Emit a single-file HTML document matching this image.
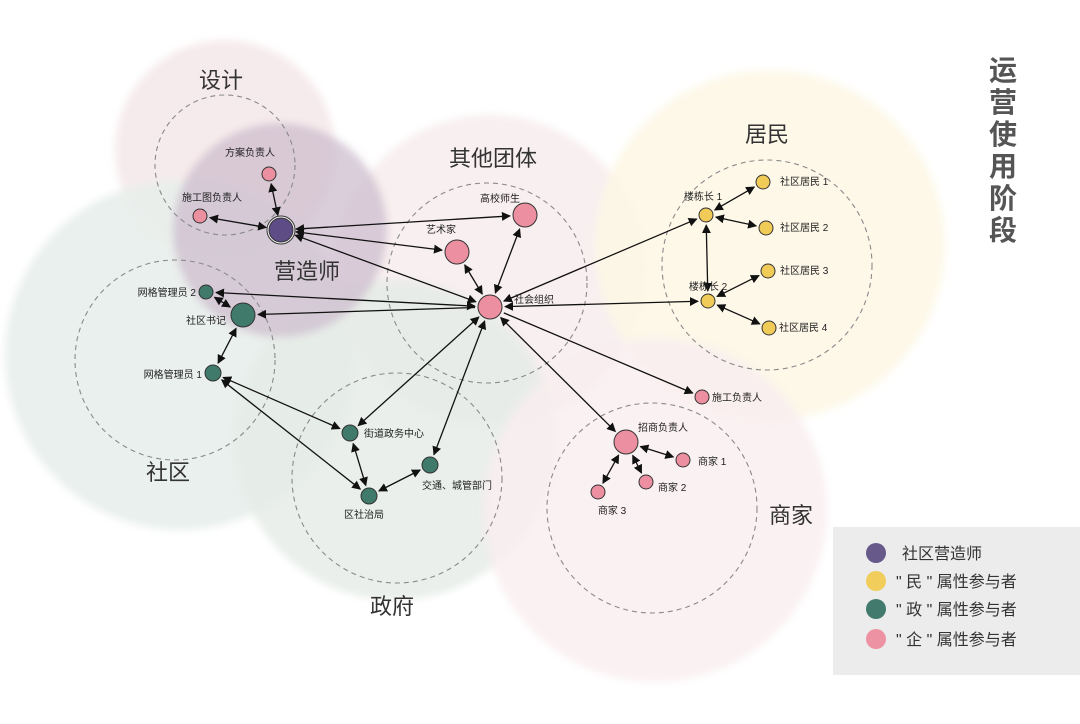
<!DOCTYPE html>
<html><head><meta charset="utf-8">
<style>
html,body{margin:0;padding:0;background:#fff;}
svg{display:block;font-family:"Liberation Sans","Noto Sans CJK SC",sans-serif;}
</style></head><body>
<svg id="s" width="1080" height="724" viewBox="0 0 1080 724" xmlns="http://www.w3.org/2000/svg">
<defs>
<marker id="a" viewBox="0 0 10 10" refX="9" refY="5" markerWidth="9" markerHeight="9" orient="auto-start-reverse" markerUnits="userSpaceOnUse">
<path d="M0,0 L10,5 L0,10 z" fill="#111"/></marker>
<filter id="bl"><feGaussianBlur stdDeviation="4"/></filter>
</defs>
<g filter="url(#bl)">
<circle cx="225" cy="150" r="110" fill="#f5e9ea" opacity="0.9"/>
<circle cx="180" cy="355" r="175" fill="#e8eeeb" opacity="0.9"/>
<circle cx="490" cy="270" r="155" fill="#f7eced" opacity="0.85"/>
<circle cx="770" cy="245" r="175" fill="#fdf7e6" opacity="0.9"/>
<circle cx="395" cy="440" r="160" fill="#e6ece8" opacity="0.85"/>
<circle cx="655" cy="510" r="172" fill="#f9eef0" opacity="0.85"/>
<circle cx="280" cy="230" r="107" fill="#cdbdcd" opacity="0.75"/>
</g>
<g fill="none" stroke="#8a8a8a" stroke-width="1.1" stroke-dasharray="5,4">
<circle cx="225" cy="165" r="70"/>
<circle cx="175" cy="360" r="100"/>
<circle cx="487" cy="283" r="100"/>
<circle cx="767" cy="265" r="105"/>
<circle cx="397" cy="478" r="105"/>
<circle cx="652" cy="508" r="105"/>
</g>
<g id="edges" stroke="#111" stroke-width="1.3" fill="none"></g>
<g id="nodes" stroke="#333" stroke-width="1"></g>
<g font-size="10" fill="#222">
<text x="250" y="156" text-anchor="middle">方案负责人</text>
<text x="212" y="201" text-anchor="middle">施工图负责人</text>
<text x="500" y="202" text-anchor="middle">高校师生</text>
<text x="441" y="233" text-anchor="middle">艺术家</text>
<text x="514" y="303">社会组织</text>
<text x="196" y="296" text-anchor="end">网格管理员 2</text>
<text x="226" y="324" text-anchor="end">社区书记</text>
<text x="202" y="378" text-anchor="end">网格管理员 1</text>
<text x="364" y="437">街道政务中心</text>
<text x="422" y="489">交通、城管部门</text>
<text x="364" y="518" text-anchor="middle">区社治局</text>
<text x="703" y="200" text-anchor="middle">楼栋长 1</text>
<text x="708" y="290" text-anchor="middle">楼栋长 2</text>
<text x="780" y="185">社区居民 1</text>
<text x="780" y="231">社区居民 2</text>
<text x="780" y="274">社区居民 3</text>
<text x="779" y="331">社区居民 4</text>
<text x="712" y="401">施工负责人</text>
<text x="638" y="431">招商负责人</text>
<text x="698" y="465">商家 1</text>
<text x="658" y="491">商家 2</text>
<text x="612" y="514" text-anchor="middle">商家 3</text>
</g>
<g font-size="22" fill="#333" text-anchor="middle">
<text x="221" y="88">设计</text>
<text x="307" y="279">营造师</text>
<text x="493" y="166">其他团体</text>
<text x="767" y="142">居民</text>
<text x="168" y="480">社区</text>
<text x="392" y="614">政府</text>
<text x="791" y="523">商家</text>
</g>
<g font-size="28" font-weight="bold" fill="#555" text-anchor="middle">
<text x="1003" y="80">运</text><text x="1003" y="112">营</text><text x="1003" y="144">使</text>
<text x="1003" y="176">用</text><text x="1003" y="208">阶</text><text x="1003" y="240">段</text>
</g>
<rect x="833" y="527" width="247" height="148" fill="#ececec"/>
<circle cx="876" cy="553" r="10" fill="#675a8a"/>
<circle cx="876" cy="581" r="10" fill="#f1cd5c"/>
<circle cx="876" cy="609" r="10" fill="#437a6e"/>
<circle cx="876" cy="639" r="10" fill="#ec92a3"/>
<g font-size="16" fill="#333">
<text x="902" y="559">社区营造师</text>
<text x="896" y="587">" 民 " 属性参与者</text>
<text x="896" y="615">" 政 " 属性参与者</text>
<text x="896" y="645">" 企 " 属性参与者</text>
</g>
</svg>
<script>
var P="#ec8fa0",Y="#f1cb58",G="#3f7a6b",V="#5d4c85";
var N={
fa:[269,174,7,P],sg:[200,216,7,P],yz:[281,230,12,V],gx:[525,215,12,P],ys:[457,252,12,P],sh:[490,307,12,P],
w2:[206,292,7,G],sj:[243,315,12,G],w1:[213,373,8,G],jd:[350,433,8,G],jt:[430,465,8,G],qs:[369,496,8,G],
l1:[706,215,7,Y],r1:[763,182,7,Y],r2:[766,228,7,Y],l2:[708,301,7,Y],r3:[768,271,7,Y],r4:[769,328,7,Y],
sgf:[702,397,7,P],zs:[626,442,12,P],s1:[683,460,7,P],s2:[646,482,7,P],s3:[598,492,7,P]};
var E=[["fa","yz",2],["sg","yz",2],["yz","gx",2],["yz","ys",2],["yz","sh",2],["ys","sh",2],["gx","sh",2],
["sh","w2",2],["sh","sj",1],["w2","sj",2],["sj","w1",2],["w1","jd",2],["w1","qs",2],["jd","qs",2],["qs","jt",2],
["sh","jd",2],["sh","jt",2],["sh","l1",2],["sh","l2",2],["l1","r1",2],["l1","r2",2],["l1","l2",2],["l2","r3",2],["l2","r4",2],
["sh","sgf",1],["sh","zs",2],["zs","s1",2],["zs","s2",2],["zs","s3",2]];
var ns="http://www.w3.org/2000/svg",eg=document.getElementById("edges"),ng=document.getElementById("nodes");
E.forEach(function(e){var a=N[e[0]],b=N[e[1]],dx=b[0]-a[0],dy=b[1]-a[1],d=Math.hypot(dx,dy),ux=dx/d,uy=dy/d;
var l=document.createElementNS(ns,"line");
l.setAttribute("x1",a[0]+ux*(a[2]+3));l.setAttribute("y1",a[1]+uy*(a[2]+3));
l.setAttribute("x2",b[0]-ux*(b[2]+3));l.setAttribute("y2",b[1]-uy*(b[2]+3));
l.setAttribute("marker-end","url(#a)");if(e[2]==2)l.setAttribute("marker-start","url(#a)");eg.appendChild(l);});
for(var k in N){var n=N[k];if(k=="yz"){var r=document.createElementNS(ns,"circle");r.setAttribute("cx",n[0]);r.setAttribute("cy",n[1]);r.setAttribute("r",14);r.setAttribute("fill","#fff");ng.appendChild(r);}
var c=document.createElementNS(ns,"circle");c.setAttribute("cx",n[0]);c.setAttribute("cy",n[1]);c.setAttribute("r",n[2]);c.setAttribute("fill",n[3]);ng.appendChild(c);}
</script>
</body></html>
